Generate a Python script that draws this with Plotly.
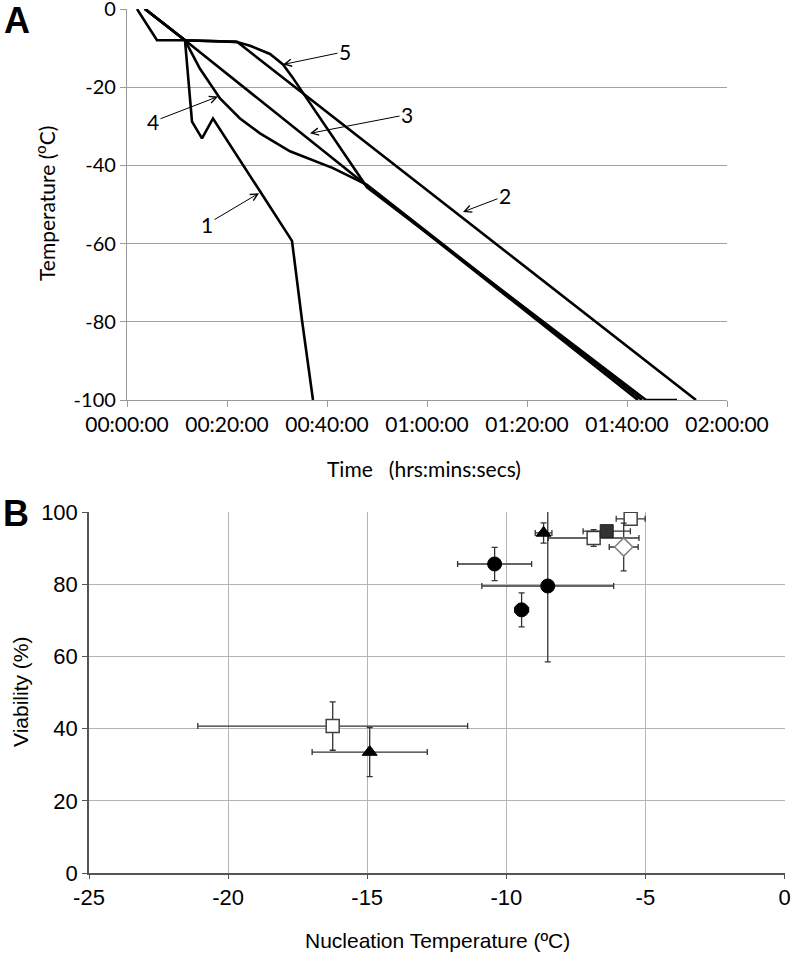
import plotly.graph_objects as go

# ---------------- Panel A data (time in minutes, temperature in °C) ----------------
c1_t = [2.0, 6.0, 11.6, 12.6, 13.0, 15.0, 17.2, 26.6, 33.0, 35.0, 37.2]
c1_T = [0, -8, -8, -23.7, -28.8, -33.1, -28.0, -46.6, -59.3, -79.6, -100]

c2_t = [3.6, 11.6, 22.0, 113.8]
c2_T = [0, -8, -8.4, -100]

c3_t = [3.6, 11.6, 48.0, 102.2]
c3_T = [0, -8, -45.2, -100]

c4_t = [3.6, 11.6, 14.6, 18.6, 22.6, 26.6, 32.6, 41.2, 48.0, 103.0]
c4_T = [0, -8, -15.3, -22.9, -28.0, -31.8, -36.4, -40.7, -45.0, -100]

c5_t = [3.6, 11.6, 21.8, 24.6, 28.6, 31.2, 33.0, 48.0, 103.8, 110.0]
c5_T = [0, -8, -8.4, -9.4, -11.5, -14.2, -17.3, -45.6, -100, -100]

time_ticks = [0, 20, 40, 60, 80, 100, 120]
time_labels = ["00:00:00", "00:20:00", "00:40:00", "01:00:00", "01:20:00", "01:40:00", "02:00:00"]
temp_ticks = [0, -20, -40, -60, -80, -100]
temp_labels = ["0", "-20", "-40", "-60", "-80", "-100"]

# curve labels: (label, text_t, text_T, tip_t, tip_T)
curve_labels = ["1", "2", "3", "4", "5"]
label_t = [16.0, 75.6, 56.0, 5.2, 43.6]
label_T = [-55.0, -47.8, -27.0, -28.8, -10.9]
tip_t = [26.4, 67.2, 36.6, 18.2, 31.2]
tip_T = [-47.1, -51.9, -31.8, -22.4, -14.2]

# ---------------- Panel B data ----------------
circ_x = [-10.42, -9.45, -8.51]
circ_y = [85.6, 72.9, 79.5]
circ_ex = [1.33, 0.25, 2.37]
circ_ey = [4.6, 4.7, 21.0]

osq_x = [-16.24, -6.86, -5.53]
osq_y = [40.7, 92.8, 98.1]
osq_ex = [4.85, 1.63, 0.52]
osq_ey = [6.7, 2.3, 1.0]

tri_x = [-14.91, -8.66]
tri_y = [33.5, 94.2]
tri_ex = [2.07, 0.3]
tri_ey = [6.8, 2.8]

dsq_x = [-6.39]
dsq_y = [94.7]
dsq_ex = [0.85]
dsq_ey = [1.0]

dia_x = [-5.78]
dia_y = [90.3]
dia_ex = [0.52]
dia_ey = [6.6]

nuc_ticks = [-25, -20, -15, -10, -5, 0]
nuc_labels = ["-25", "-20", "-15", "-10", "-5", "0"]
via_ticks = [0, 20, 40, 60, 80, 100]

W, H = 792, 954
fig = go.Figure()

for tt, TT in [(c1_t, c1_T), (c2_t, c2_T), (c3_t, c3_T), (c4_t, c4_T), (c5_t, c5_T)]:
    fig.add_trace(go.Scatter(x=tt, y=TT, mode="lines", line=dict(color="black", width=2.6),
                             xaxis="x", yaxis="y", showlegend=False, hoverinfo="skip"))

err_col = "#333333"


def add_pts(x, y, ex, ey, symbol, size, fill, lcol, lw):
    fig.add_trace(go.Scatter(
        x=x, y=y, mode="markers", xaxis="x2", yaxis="y2", showlegend=False,
        marker=dict(symbol=symbol, size=size, color=fill, line=dict(color=lcol, width=lw)),
        error_x=dict(type="data", array=ex, visible=True, color=err_col, thickness=1.3, width=3),
        error_y=dict(type="data", array=ey, visible=True, color=err_col, thickness=1.3, width=3),
    ))


add_pts(circ_x, circ_y, circ_ex, circ_ey, "circle", 14, "black", "black", 1)
add_pts(osq_x, osq_y, osq_ex, osq_ey, "square", 13, "white", "#404040", 1.5)
add_pts(tri_x, tri_y, tri_ex, tri_ey, "triangle-up", 13, "black", "black", 1)
add_pts(dsq_x, dsq_y, dsq_ex, dsq_ey, "square", 13, "#333333", "#222222", 1)
add_pts(dia_x, dia_y, dia_ex, dia_ey, "diamond", 14, "white", "#808080", 1.5)

fontA = "Lato, 'Open Sans', sans-serif"
fontB = "'Liberation Sans', Arial, sans-serif"

annotations = []
for lab, lt, lT, pt, pT in zip(curve_labels, label_t, label_T, tip_t, tip_T):
    annotations.append(dict(x=pt, y=pT, ax=lt, ay=lT, xref="x", yref="y", axref="x", ayref="y",
                            text=lab, showarrow=True, arrowhead=5, arrowsize=1.4, arrowwidth=1.0,
                            arrowcolor="black", font=dict(family=fontA, size=21, color="black")))


def paper_text(text, px, py, size, family, angle=0):
    return dict(text=text, x=px / W, y=1 - py / H, xref="paper", yref="paper", showarrow=False,
                xanchor="center", yanchor="middle", textangle=angle,
                font=dict(family=family, size=size, color="black"))


annotations += [
    paper_text("Temperature (<sup>o</sup>C)", 45, 204, 21, fontA, -90),
    paper_text("Time\u00a0\u00a0\u00a0(hrs:mins:secs)", 424, 468, 21, fontA),
    paper_text("<b>A</b>", 17, 20, 36, fontB),
    paper_text("<b>B</b>", 16, 513, 36, fontB),
    paper_text("Viability (%)", 20, 692, 21, fontB, -90),
    paper_text("Nucleation Temperature (ºC)", 437, 940, 21, fontB),
]

fig.update_layout(
    width=W, height=H, autosize=False,
    margin=dict(l=0, r=0, t=0, b=0, pad=0),
    paper_bgcolor="white", plot_bgcolor="white",
    showlegend=False,
    xaxis=dict(domain=[127 / W, 727 / W], anchor="y", range=[0, 120], tickvals=time_ticks,
               ticktext=time_labels, showgrid=False, zeroline=False, showline=True, automargin=False,
               linecolor="#9a9a9a", linewidth=1.3, ticks="outside", ticklen=6, tickcolor="#9a9a9a",
               ticklabeloverflow="allow",
               tickfont=dict(family=fontA, size=21, color="black")),
    yaxis=dict(domain=[1 - 400 / H, 1 - 9 / H], anchor="x", range=[-100, 0], tickvals=temp_ticks,
               ticktext=temp_labels, automargin=False, ticklabeloverflow="allow",
               showgrid=True, gridcolor="#a0a0a0", gridwidth=1.4, zeroline=False, showline=True,
               linecolor="#9a9a9a", linewidth=1.3, ticks="outside", ticklen=6, tickcolor="#9a9a9a",
               tickfont=dict(family=fontA, size=20, color="black")),
    xaxis2=dict(domain=[89 / W, 784.5 / W], anchor="y2", range=[-25, 0], tickvals=nuc_ticks,
                ticktext=nuc_labels, automargin=False, ticklabeloverflow="allow",
                showgrid=True, gridcolor="#b4b4b4", gridwidth=1, zeroline=False, showline=True,
                linecolor="#555555", linewidth=1.5, ticks="outside", ticklen=4, tickcolor="#555555",
                tickfont=dict(family=fontB, size=22, color="black")),
    yaxis2=dict(domain=[1 - 873 / H, 1 - 512 / H], anchor="x2", range=[0, 100], tickvals=via_ticks,
                automargin=False, ticklabeloverflow="allow",
                showgrid=True, gridcolor="#b4b4b4", gridwidth=1, zeroline=False, showline=True,
                linecolor="#555555", linewidth=1.5, ticks="outside", ticklen=5, tickcolor="#555555",
                tickfont=dict(family=fontB, size=22, color="black")),
    annotations=annotations,
)

fig.write_html("out.html", config={"displayModeBar": False},
               post_script="document.body.style.margin='0';document.body.style.overflow='hidden';")
